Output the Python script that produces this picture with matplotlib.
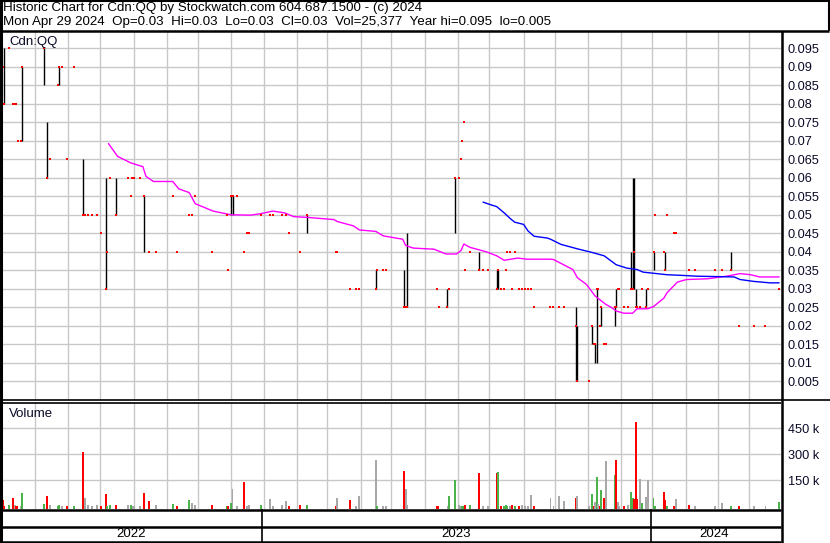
import numpy as np
import matplotlib
matplotlib.use("Agg")
import matplotlib.pyplot as plt
from matplotlib.lines import Line2D

plt.rcParams['font.family'] = ['Liberation Sans', 'DejaVu Sans']

# ---------------- data ----------------
START = '2022-05-02'          # first trading session shown
END = '2024-05-01'
# trading-session number (business days since START)
session = [0, 1, 4, 7, 8, 9, 10, 12, 13, 28,
           30, 32, 37, 38, 40, 43, 48, 54, 55, 57,
           60, 63, 66, 69, 70, 72, 76, 84, 86, 87,
           88, 92, 95, 98, 103, 114, 117, 125, 127, 129,
           140, 150, 151, 153, 154, 157, 162, 164, 165, 173,
           179, 181, 187, 190, 192, 199, 204, 223, 224, 233,
           237, 239, 250, 251, 255, 257, 269, 270, 271, 291,
           292, 298, 299, 303, 306, 307, 308, 309, 310, 313,
           319, 322, 325, 331, 332, 334, 336, 337, 338, 340,
           341, 343, 346, 348, 350, 352, 354, 356, 367, 369,
           373, 376, 384, 385, 393, 395, 396, 397, 398, 399,
           400, 401, 403, 404, 410, 411, 412, 413, 416, 419,
           421, 422, 423, 424, 425, 427, 428, 431, 432, 436,
           437, 443, 444, 445, 450, 451, 460, 464, 477, 482,
           488, 493, 503, 511, 520]
high = [.09, .095, .095, .08, .08, .08, .07, .07, .09, .095,
        .075, .065, .085, .09, .09, .065, .09, .065, .05, .05,
        .05, .05, .045, .06, .04, .06, .06, .06, .055, .06,
        .06, .06, .055, .04, .04, .055, .04, .05, .05, .055,
        .04, .05, .035, .055, .055, .055, .04, .045, .045, .05,
        .05, .05, .05, .05, .045, .04, .05, .04, .04, .03,
        .03, .03, .035, .035, .035, .035, .035, .025, .045, .03,
        .025, .03, .03, .06, .06, .065, .07, .075, .035, .04,
        .04, .035, .035, .035, .035, .03, .03, .035, .04, .04,
        .03, .04, .03, .03, .03, .03, .03, .025, .025, .025,
        .025, .025, .025, .02, .005, .02, .015, .015, .03, .03,
        .02, .025, .015, .015, .025, .03, .03, .03, .025, .025,
        .04, .06, .06, .03, .025, .025, .03, .03, .03, .04,
        .05, .04, .04, .05, .045, .045, .035, .035, .035, .035,
        .04, .02, .02, .02, .03]
low = [.09, .08, .095, .08, .08, .08, .07, .07, .07, .085,
       .06, .065, .085, .085, .09, .065, .09, .05, .05, .05,
       .05, .05, .045, .03, .04, .06, .05, .06, .055, .06,
       .06, .06, .04, .04, .04, .055, .04, .05, .05, .055,
       .04, .05, .035, .05, .05, .055, .04, .045, .045, .05,
       .05, .05, .05, .05, .045, .04, .045, .04, .04, .03,
       .03, .03, .03, .035, .035, .035, .025, .025, .025, .03,
       .025, .025, .03, .045, .06, .065, .07, .075, .035, .04,
       .035, .035, .035, .03, .03, .03, .03, .035, .04, .04,
       .03, .04, .03, .03, .03, .03, .03, .025, .025, .025,
       .025, .025, .005, .005, .005, .015, .015, .01, .01, .03,
       .02, .02, .015, .015, .02, .025, .03, .03, .025, .025,
       .03, .03, .03, .025, .025, .025, .03, .025, .03, .035,
       .05, .04, .035, .05, .045, .045, .035, .035, .035, .035,
       .035, .02, .02, .02, .03]
close = [.09, .08, .095, .08, .08, .08, .07, .07, .09, .095,
         .06, .065, .085, .09, .09, .065, .09, .05, .05, .05,
         .05, .05, .045, .03, .04, .06, .05, .06, .055, .06,
         .06, .06, .055, .04, .04, .055, .04, .05, .05, .055,
         .04, .05, .035, .055, .055, .055, .04, .045, .045, .05,
         .05, .05, .05, .05, .045, .04, .05, .04, .04, .03,
         .03, .03, .03, .035, .035, .035, .025, .025, .025, .03,
         .025, .025, .03, .06, .06, .065, .07, .075, .035, .04,
         .035, .035, .035, .03, .035, .03, .03, .035, .04, .04,
         .03, .04, .03, .03, .03, .03, .03, .025, .025, .025,
         .025, .025, .02, .005, .005, .02, .015, .015, .03, .03,
         .02, .025, .015, .015, .025, .025, .03, .03, .025, .025,
         .03, .03, .04, .025, .025, .025, .03, .025, .03, .04,
         .05, .04, .035, .05, .045, .045, .035, .035, .035, .035,
         .035, .02, .02, .02, .03]
volume_thousands = [36, 2, 5, 46, 8, 3, 2, 3, 77, 12,
                    58, 8, 3, 5, 3, 3, 3, 311, 48, 8,
                    3, 8, 3, 71, 3, 5, 5, 5, 5, 2,
                    2, 3, 77, 31, 5, 13, 3, 36, 19, 5,
                    8, 3, 3, 19, 100, 3, 140, 3, 5, 5,
                    42, 2, 5, 31, 3, 5, 8, 3, 48, 36,
                    3, 60, 267, 3, 3, 3, 204, 100, 8, 3,
                    2, 3, 60, 150, 5, 3, 3, 2, 5, 8,
                    192, 3, 3, 192, 198, 3, 3, 8, 2, 2,
                    5, 3, 3, 5, 3, 3, 65, 3, 48, 3,
                    60, 31, 48, 60, 3, 71, 3, 25, 169, 13,
                    3, 94, 48, 261, 180, 267, 25, 2, 3, 5,
                    83, 48, 42, 486, 42, 157, 19, 54, 150, 48,
                    2, 83, 36, 3, 3, 42, 8, 3, 3, 19,
                    3, 3, 3, 3, 25.377]
# u = up day, d = down day, n = unchanged
direction = ['d', 'd', 'u', 'd', 'n', 'd', 'd', 'n', 'u', 'u',
             'd', 'n', 'u', 'u', 'n', 'd', 'u', 'd', 'n', 'n',
             'n', 'n', 'd', 'd', 'u', 'u', 'd', 'n', 'u', 'n',
             'n', 'n', 'd', 'd', 'n', 'u', 'd', 'u', 'n', 'n',
             'd', 'u', 'd', 'u', 'n', 'n', 'd', 'n', 'n', 'u',
             'n', 'n', 'n', 'n', 'd', 'd', 'u', 'd', 'n', 'd',
             'n', 'n', 'n', 'u', 'n', 'n', 'd', 'n', 'n', 'd',
             'd', 'n', 'u', 'u', 'n', 'n', 'u', 'u', 'd', 'u',
             'd', 'n', 'n', 'd', 'u', 'd', 'u', 'u', 'u', 'n',
             'd', 'u', 'd', 'n', 'n', 'n', 'n', 'd', 'n', 'n',
             'n', 'n', 'd', 'n', 'n', 'u', 'd', 'n', 'u', 'n',
             'd', 'u', 'd', 'n', 'u', 'd', 'n', 'n', 'd', 'n',
             'u', 'u', 'd', 'd', 'd', 'n', 'u', 'n', 'n', 'u',
             'u', 'd', 'd', 'u', 'd', 'n', 'd', 'n', 'n', 'n',
             'u', 'd', 'n', 'n', 'u']

# moving averages
ma_fast_session = [71, 77, 86, 94, 96, 101, 114, 118, 125, 129,
                   141, 153, 166, 173, 181, 189, 195, 204, 222, 224,
                   235, 239, 250, 255, 268, 270, 275, 289, 297, 304,
                   307, 309, 313, 324, 331, 336, 345, 351, 367, 369,
                   382, 385, 391, 397, 404, 408, 411, 416, 422, 425,
                   432, 436, 443, 445, 452, 458, 472, 485, 494, 501,
                   507, 520]
ma_fast = [.0692, .0658, .064, .063, .0604, .059, .059, .057, .056, .053,
           .051, .050, .0499, .0503, .051, .0505, .0495, .0493, .0487, .0482,
           .047, .0459, .0455, .0443, .0434, .0417, .041, .0407, .0394, .0394,
           .0403, .0421, .0412, .040, .0389, .0377, .0383, .038, .038, .0379,
           .0352, .033, .0312, .028, .0258, .0249, .024, .0234, .0234, .0246,
           .0246, .0252, .0275, .0289, .0318, .0325, .0327, .0334, .0341, .0338,
           .0332, .0332]
ma_slow_session = [322, 327, 331, 336, 340, 343, 349, 352, 356, 365,
                   367, 374, 385, 396, 403, 411, 418, 425, 429, 445,
                   456, 465, 478, 490, 494, 503, 514, 520]
ma_slow = [.0534, .0527, .0522, .0505, .049, .048, .0474, .0456, .0442, .0437,
           .0434, .042, .0408, .0397, .0389, .0365, .0356, .0352, .0345, .0338,
           .0336, .0334, .0333, .0332, .0325, .032, .0316, .0316]

price_ticks = [0.005, 0.01, 0.015, 0.02, 0.025, 0.03, 0.035, 0.04, 0.045, 0.05,
               0.055, 0.06, 0.065, 0.07, 0.075, 0.08, 0.085, 0.09, 0.095]
volume_ticks = [150000, 300000, 450000]
volume_tick_labels = ['150 k', '300 k', '450 k']
years = ['2022', '2023', '2024']
title1 = "Historic Chart for Cdn:QQ by Stockwatch.com 604.687.1500 - (c) 2024"
title2 = "Mon Apr 29 2024  Op=0.03  Hi=0.03  Lo=0.03  Cl=0.03  Vol=25,377  Year hi=0.095  lo=0.005"

# ---------------- derived ----------------
s = np.array(session)
hi = np.array(high); lo = np.array(low); cl = np.array(close)
vol = np.array(volume_thousands) * 1000.0
month_starts = np.arange(np.datetime64('2022-06'), np.datetime64('2024-05'),
                         np.timedelta64(1, 'M')).astype('datetime64[D]')
month_pos = np.busday_count(START, month_starts)
year_pos = np.busday_count(START, np.array(['2023-01-01', '2024-01-01'], dtype='datetime64[D]'))
end_pos = np.busday_count(START, END)

# ---------------- figure ----------------
W, H = 830, 543
fig = plt.figure(figsize=(W / 100, H / 100), dpi=100)
fig.patch.set_facecolor('white')

def ax_px(x0, y0, x1, y1):
    return fig.add_axes([x0 / W, 1 - y1 / H, (x1 - x0) / W, (y1 - y0) / H])

def fline(x0, y0, x1, y1, lw=1.5, color='black'):
    fig.add_artist(Line2D([x0 / W, x1 / W], [1 - y0 / H, 1 - y1 / H],
                          transform=fig.transFigure, color=color, lw=lw,
                          solid_capstyle='butt'))

GRID = '#c8c8c8'
TXT = '#0a0a28'
xlim = (-0.4, end_pos - 0.6)

# price panel
ax = ax_px(2, 32, 781, 400)
ax.set_xlim(*xlim)
ax.set_ylim(-0.00006, 0.0994)
for sp in ax.spines.values():
    sp.set_visible(False)
ax.set_xticks(month_pos)
ax.set_yticks(price_ticks)
ax.grid(True, color=GRID, lw=1.0)
ax.set_axisbelow(True)
ax.yaxis.tick_right()
ax.tick_params(axis='y', length=0, pad=5, labelsize=9.2, labelcolor=TXT)
ax.tick_params(axis='x', length=0, labelbottom=False)
ax.set_yticklabels([f'{v:g}' for v in price_ticks])

rng = hi > lo
ax.vlines(s[rng], lo[rng], hi[rng], color='black', lw=1.0)
ax.plot(ma_fast_session, ma_fast, color='#ff00ff', lw=1.0)
ax.plot(ma_slow_session, ma_slow, color='#0000ff', lw=1.0)
ax.plot(s, cl, linestyle='none', marker='s', ms=1.7, mew=0, color='#ff0000')
ax.text(0.009, 0.973, 'Cdn:QQ', transform=ax.transAxes, fontsize=9.5,
        color=TXT, va='center', ha='left')

# volume panel
axv = ax_px(2, 403, 781, 509)
axv.set_xlim(*xlim)
vmin = -15600
axv.set_ylim(vmin, 596000)
for sp in axv.spines.values():
    sp.set_visible(False)
axv.set_xticks(month_pos)
axv.set_yticks(volume_ticks)
axv.set_yticklabels(volume_tick_labels)
axv.grid(True, color=GRID, lw=1.0)
axv.set_axisbelow(True)
axv.yaxis.tick_right()
axv.tick_params(axis='y', length=0, pad=5, labelsize=9.2, labelcolor=TXT)
axv.tick_params(axis='x', length=0, labelbottom=False)
cmap = {'u': '#4cb34c', 'd': '#ff0000', 'n': '#a8a8a8'}
colors = [cmap[d] for d in direction]
axv.bar(s, vol - vmin, bottom=vmin, width=1.3, color=colors, linewidth=0)
axv.text(0.009, 0.9, 'Volume', transform=axv.transAxes, fontsize=9.5,
         color=TXT, va='center', ha='left')

# date strip axes (for year labels)
axd = ax_px(2, 527, 781, 541)
axd.set_xlim(*xlim)
axd.set_ylim(0, 1)
axd.axis('off')
bounds = [xlim[0]] + list(year_pos) + [xlim[1]]
for i, y in enumerate(years):
    axd.text((bounds[i] + bounds[i + 1]) / 2 - 1.5, 0.5, y, ha='center', va='center',
             fontsize=9.5, color='black')
    if i > 0:
        xp = 2 + (bounds[i] - xlim[0]) / (xlim[1] - xlim[0]) * 779
        fline(xp - 1.5, 509, xp - 1.5, 542, lw=1.2)

# frame lines
fline(0, 1, 829, 1, lw=1.5)          # top
fline(828.5, 0, 828.5, 31, lw=1.5)    # title box right
fline(0, 31, 829, 31, lw=1.8)         # under title
fline(1, 0, 1, 543, lw=2.2)           # left
fline(781.5, 31, 781.5, 543, lw=1.8)  # panel right
fline(0, 400, 830, 400, lw=1.2)       # price bottom
fline(0, 402.8, 781, 402.8, lw=1.2)   # volume top
fline(0, 509.5, 781, 509.5, lw=1.8)   # volume bottom
fline(0, 526.8, 781, 526.8, lw=1.8)   # strip divider
fline(0, 541.8, 781, 541.8, lw=1.8)   # bottom

fig.text(3 / W, 1 - 8.5 / H, title1, fontsize=9.6, color='black', va='center', ha='left')
fig.text(3 / W, 1 - 22.5 / H, title2, fontsize=9.6, color='black', va='center', ha='left')

fig.savefig('out.png', dpi=100, facecolor='white')
